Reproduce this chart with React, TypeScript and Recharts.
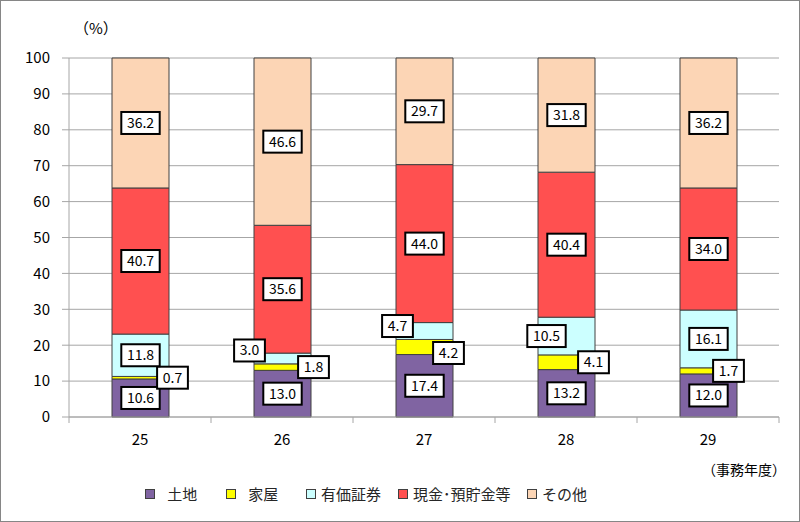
import { BarChart, Bar, XAxis, YAxis, CartesianGrid, LabelList } from "recharts";

const years = ["25", "26", "27", "28", "29"];
const land = [10.6, 13.0, 17.4, 13.2, 12.0];
const house = [0.7, 1.8, 4.2, 4.1, 1.7];
const securities = [11.8, 3.0, 4.7, 10.5, 16.1];
const cash = [40.7, 35.6, 44.0, 40.4, 34.0];
const other = [36.2, 46.6, 29.7, 31.8, 36.2];
const yTicks = [0, 10, 20, 30, 40, 50, 60, 70, 80, 90, 100];

const SERIES = [
  { key: "land", name: "土地", legend: " 土地", color: "#8064A2", values: land },
  { key: "house", name: "家屋", legend: " 家屋", color: "#FFFF00", values: house },
  { key: "securities", name: "有価証券", legend: "有価証券", color: "#CCFFFF", values: securities },
  { key: "cash", name: "現金･預貯金等", legend: "現金･預貯金等", color: "#FF5050", values: cash },
  { key: "other", name: "その他", legend: "その他", color: "#FCD5B5", values: other },
];

const data = years.map((year, i) => {
  const row: Record<string, string | number> = { year };
  SERIES.forEach((s) => (row[s.key] = s.values[i]));
  return row;
});

// labels that Excel pushed out of the thin segments
const LABEL_SHIFT: Record<string, [number, number]> = {
  "house-0": [32, 0],
  "house-1": [31, 0],
  "house-2": [24, 6],
  "house-3": [27, 0],
  "house-4": [20, 0],
  "securities-1": [-33, -8],
  "securities-2": [-27, -5],
  "securities-3": [-20, 0],
};

const W = 800;
const H = 522;
const M = { top: 58, right: 21, left: 0, bottom: 0 };
const Y_W = 69;
const X_H = 105;
const HALF_BAND = (W - Y_W - M.right) / years.length / 2;
const FONT = "'Noto Sans CJK JP', 'Noto Sans', sans-serif";
const AXIS = "#A6A6A6";

function makeLabel(seriesKey: string) {
  return (props: any) => {
    const { x, y, width, height, value, index } = props;
    const shift = LABEL_SHIFT[`${seriesKey}-${index}`] || [0, 0];
    const cx = Number(x) + Number(width) / 2 + shift[0];
    const cy = Number(y) + Number(height) / 2 + shift[1];
    const txt = Number(value).toFixed(1);
    const bw = txt.length * 7.6 + 8;
    const bh = 22;
    return (
      <g>
        <rect x={cx - bw / 2} y={cy - bh / 2} width={bw} height={bh} fill="#fff" stroke="#000" strokeWidth={2} />
        <text x={cx} y={cy + 5} textAnchor="middle" fontSize={14} fontFamily={FONT} fill="#000">
          {txt}
        </text>
      </g>
    );
  };
}

const XTick = (props: any) => {
  const { x, y, payload, index } = props;
  const last = index === years.length - 1;
  return (
    <g>
      <line x1={x - HALF_BAND} x2={x - HALF_BAND} y1={y} y2={y + 6} stroke={AXIS} />
      {last && <line x1={x + HALF_BAND} x2={x + HALF_BAND} y1={y} y2={y + 6} stroke={AXIS} />}
      <text x={x} y={y + 28} textAnchor="middle" fontSize={15} fontFamily={FONT} fill="#000">
        {payload.value}
      </text>
    </g>
  );
};

const LEGEND_POS = [145, 226, 306, 398, 527];

export default function App() {
  return (
    <div
      style={{
        position: "absolute",
        left: 0,
        top: 0,
        width: W,
        height: H,
        boxSizing: "border-box",
        border: "1px solid #868686",
        background: "#fff",
        fontFamily: FONT,
      }}
    >
      <div style={{ position: "absolute", left: -1, top: -1 }}>
        <BarChart width={W} height={H} data={data} margin={M} barSize={57}>
          <CartesianGrid vertical={false} stroke={AXIS} />
          <YAxis
            width={Y_W}
            domain={[0, 100]}
            ticks={yTicks}
            interval={0}
            tickSize={7}
            tickMargin={12}
            stroke={AXIS}
            tick={{ fill: "#000", fontSize: 15, fontFamily: FONT }}
          />
          <XAxis
            dataKey="year"
            height={X_H}
            stroke={AXIS}
            tickLine={false}
            tickSize={0}
            tickMargin={0}
            interval={0}
            tick={<XTick />}
          />
          {SERIES.map((s) => (
            <Bar
              key={s.key}
              dataKey={s.key}
              name={s.name}
              stackId="a"
              fill={s.color}
              stroke="#404040"
              strokeWidth={1}
              isAnimationActive={false}
            >
              <LabelList dataKey={s.key} content={makeLabel(s.key)} />
            </Bar>
          ))}
        </BarChart>
      </div>
      <div style={{ position: "absolute", left: 73, top: 16, fontSize: 15, color: "#000" }}>（%）</div>
      <div style={{ position: "absolute", left: 701, top: 458, fontSize: 14, color: "#000" }}>（事務年度）</div>
      {SERIES.map((s, i) => (
        <div
          key={s.key}
          style={{
            position: "absolute",
            left: LEGEND_POS[i] - 1,
            top: 482,
            display: "flex",
            alignItems: "center",
            fontSize: 15,
            color: "#262626",
            whiteSpace: "pre",
          }}
        >
          <span
            style={{
              display: "inline-block",
              width: 8,
              height: 8,
              background: s.color,
              border: "1px solid #404040",
              marginRight: i < 2 ? 9 : 5,
            }}
          />
          <span>{s.legend}</span>
        </div>
      ))}
    </div>
  );
}
